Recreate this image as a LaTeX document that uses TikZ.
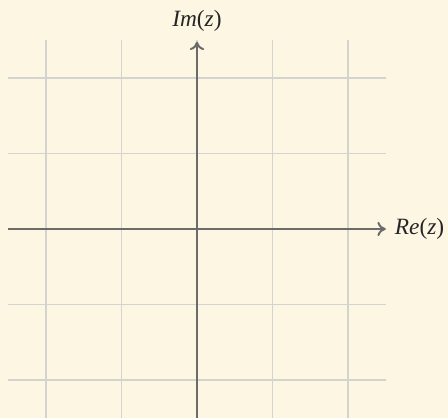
\documentclass[tikz,border=0pt]{standalone}
\usepackage{fontspec}
\setmainfont{Liberation Serif}
\usepackage{tikz}
\usetikzlibrary{arrows.meta, positioning}
\definecolor{paper}{HTML}{FDF6E3}
\definecolor{gridgray}{HTML}{D3D3D0}
\definecolor{axisgray}{HTML}{6B6B6B}
\tikzset{
  gridline/.style={
    draw=gridgray,
    line width=0.5pt
  },
  axis/.style={
    -{To[length=1.1mm, width=1.9mm]},
    draw=axisgray,
    line width=0.75pt
  },
  axislabel/.style={
    text=black!85,
    font=\fontsize{8.8}{10}\selectfont,
    inner sep=1pt
  }
}

\begin{document}
\begin{tikzpicture}
    \fill[paper] (-2.609,-2.503) rectangle (3.325,3.033);
    \useasboundingbox (-2.609,-2.503) rectangle (3.325,3.033);

    \draw[gridline, step=1] (-2.5,-2.5) grid (2.5,2.5);

    \coordinate (xstart) at (-2.5,0);
    \coordinate (xend) at (2.5,0);
    \coordinate (ystart) at (0,-2.5);
    \coordinate (yend) at (0,2.48);

    \node[axislabel, right=0.08cm of xend] (re) {\textit{Re}(\textit{z})};
    \node[axislabel, above=0.1cm of yend] (im) {\textit{Im}(\textit{z})};

    \draw[axis] (xstart) -- (xend);
    \draw[axis] (ystart) -- (yend);
\end{tikzpicture}
\end{document}
